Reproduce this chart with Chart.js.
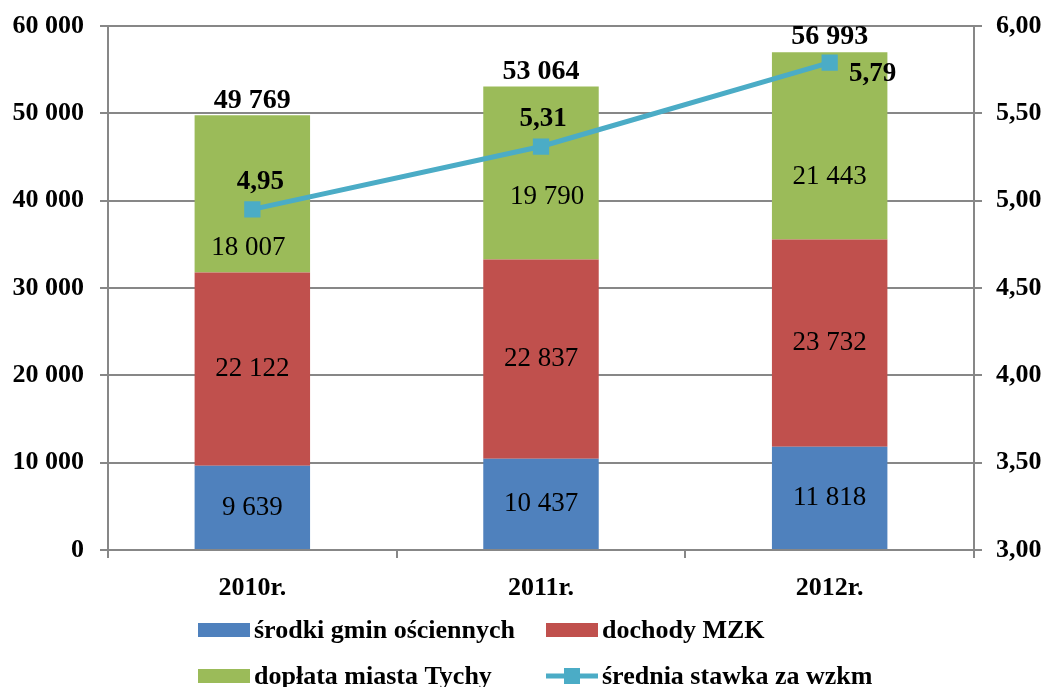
<!DOCTYPE html>
<html>
<head>
<meta charset="utf-8">
<script src="https://cdn.jsdelivr.net/npm/chart.js@4.4.1/dist/chart.umd.min.js"></script>
<style>
  html, body { margin: 0; padding: 0; background: #ffffff; }
  #wrap { width: 1045px; height: 687px; }
</style>
</head>
<body>
<div id="wrap"><canvas id="c" width="1045" height="687"></canvas></div>
<script>
// ---- data ----
const categories = ['2010r.', '2011r.', '2012r.'];
const srodkiGmin = [9639, 10437, 11818];
const dochodyMZK = [22122, 22837, 23732];
const doplataTychy = [18007, 19790, 21443];
const totals = [49769, 53064, 56993];
const sredniaStawka = [4.95, 5.31, 5.79];
const seriesNames = ['środki gmin ościennych', 'dochody MZK', 'dopłata miasta Tychy', 'średnia stawka za wzkm'];
const leftTicks = [0, 10000, 20000, 30000, 40000, 50000, 60000];
const rightTicks = [3.0, 3.5, 4.0, 4.5, 5.0, 5.5, 6.0];

// ---- style ----
const FONT = "'Liberation Serif', 'Times New Roman', serif";
const GRID = '#878787';
const COLORS = ['#4F81BD', '#C0504D', '#9BBB59', '#4BACC6'];
const greenLabelOffsets = [[-4, 54], [6, 24], [0, 31]];
const lineLabelOffsets = [[8, -27], [2, -27], [43, 11]];

function fmtThousands(v) {
  return String(Math.round(v)).replace(/\B(?=(\d{3})+(?!\d))/g, ' ');
}
function fmtComma(v) {
  return Number(v).toFixed(2).replace('.', ',');
}

const labelsPlugin = {
  id: 'customLabels',
  afterDatasetsDraw(chart) {
    const ctx = chart.ctx;
    ctx.save();
    ctx.textAlign = 'center';
    ctx.textBaseline = 'middle';
    ctx.fillStyle = '#000';
    for (let d = 1; d <= 3; d++) {
      const meta = chart.getDatasetMeta(d);
      const data = chart.data.datasets[d].data;
      meta.data.forEach((el, i) => {
        let x = el.x;
        let y = (el.y + el.base) / 2;
        if (d === 3) { x += greenLabelOffsets[i][0]; y += greenLabelOffsets[i][1]; }
        ctx.font = 'normal 27px ' + FONT;
        ctx.fillText(fmtThousands(data[i]), x, y);
      });
    }
    const topMeta = chart.getDatasetMeta(3);
    topMeta.data.forEach((el, i) => {
      ctx.font = 'bold 28px ' + FONT;
      ctx.fillText(fmtThousands(totals[i]), el.x, el.y - 15);
    });
    const lineMeta = chart.getDatasetMeta(0);
    lineMeta.data.forEach((el, i) => {
      ctx.font = 'bold 27px ' + FONT;
      ctx.fillText(fmtComma(sredniaStawka[i]), el.x + lineLabelOffsets[i][0], el.y + lineLabelOffsets[i][1]);
    });
    ctx.restore();
  }
};

const legendPlugin = {
  id: 'customLegend',
  afterDraw(chart) {
    const ctx = chart.ctx;
    ctx.save();
    ctx.font = 'bold 26px ' + FONT;
    ctx.textAlign = 'left';
    ctx.textBaseline = 'middle';
    ctx.fillStyle = '#000';
    const cols = [198, 546];
    const rows = [630, 676];
    const order = [1, 2, 3, 0];
    order.forEach((dsIdx, k) => {
      const ds = chart.data.datasets[dsIdx];
      const x = cols[k % 2];
      const y = rows[Math.floor(k / 2)];
      if (ds.type === 'line') {
        ctx.strokeStyle = ds.borderColor;
        ctx.lineWidth = 5;
        ctx.beginPath();
        ctx.moveTo(x, y);
        ctx.lineTo(x + 52, y);
        ctx.stroke();
        ctx.fillStyle = ds.borderColor;
        ctx.fillRect(x + 26 - 8, y - 8, 16, 16);
      } else {
        ctx.fillStyle = ds.backgroundColor;
        ctx.fillRect(x, y - 7, 52, 14);
      }
      ctx.fillStyle = '#000';
      ctx.fillText(ds.label, x + 56, y + 1);
    });
    ctx.restore();
  }
};

new Chart(document.getElementById('c'), {
  data: {
    labels: categories,
    datasets: [
      {
        type: 'line', label: seriesNames[3], data: sredniaStawka, yAxisID: 'y1',
        borderColor: COLORS[3], backgroundColor: COLORS[3], borderWidth: 5,
        pointStyle: 'rect', pointRadius: 11.5, pointBorderWidth: 0,
        pointBackgroundColor: COLORS[3], tension: 0, order: 0
      },
      { type: 'bar', label: seriesNames[0], data: srodkiGmin, backgroundColor: COLORS[0], yAxisID: 'y', stack: 's', order: 1 },
      { type: 'bar', label: seriesNames[1], data: dochodyMZK, backgroundColor: COLORS[1], yAxisID: 'y', stack: 's', order: 1 },
      { type: 'bar', label: seriesNames[2], data: doplataTychy, backgroundColor: COLORS[2], yAxisID: 'y', stack: 's', order: 1 }
    ]
  },
  options: {
    responsive: false,
    devicePixelRatio: 1,
    animation: false,
    datasets: { bar: { barPercentage: 0.4, categoryPercentage: 1.0 } },
    layout: { padding: { top: 26, bottom: 87, left: 0, right: 0 } },
    plugins: { legend: { display: false }, tooltip: { enabled: false } },
    scales: {
      x: {
        stacked: true,
        offset: true,
        grid: { offset: true, drawOnChartArea: false, drawTicks: true, tickLength: 8, color: GRID, lineWidth: 2 },
        border: { color: GRID, width: 2 },
        ticks: { color: '#000', font: { family: FONT, size: 26, weight: 'bold' }, padding: 15, maxRotation: 0 },
        afterFit(s) { s.height = 50; s.paddingLeft = 0; s.paddingRight = 0; }
      },
      y: {
        position: 'left', stacked: true, min: 0, max: 60000,
        afterBuildTicks(s) { s.ticks = leftTicks.map(v => ({ value: v })); },
        grid: { color: GRID, lineWidth: 2, tickLength: 8 },
        border: { color: GRID, width: 2 },
        ticks: { color: '#000', font: { family: FONT, size: 26, weight: 'bold' }, padding: 16, callback: v => fmtThousands(v) },
        afterFit(s) { s.width = 108; s.paddingTop = 0; s.paddingBottom = 0; }
      },
      y1: {
        position: 'right', min: 3, max: 6,
        afterBuildTicks(s) { s.ticks = rightTicks.map(v => ({ value: v })); },
        grid: { drawOnChartArea: false, color: GRID, lineWidth: 2, tickLength: 8 },
        border: { color: GRID, width: 2 },
        ticks: { color: '#000', font: { family: FONT, size: 26, weight: 'bold' }, padding: 14, callback: v => fmtComma(v) },
        afterFit(s) { s.width = 71; s.paddingTop = 0; s.paddingBottom = 0; }
      }
    }
  },
  plugins: [labelsPlugin, legendPlugin]
});
</script>
</body>
</html>
